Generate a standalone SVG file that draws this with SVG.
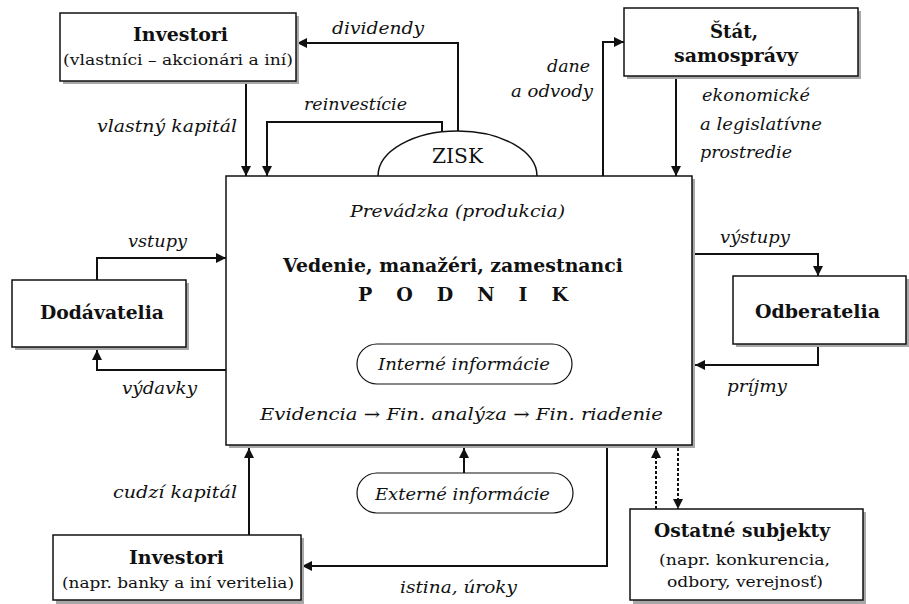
<svg xmlns="http://www.w3.org/2000/svg" width="909" height="604" viewBox="0 0 909 604">
<style>
text{font-family:"DejaVu Serif","Liberation Serif",serif;fill:#111}
.b{font-weight:bold;font-size:19px}
.r{font-size:15px}
.i{font-style:italic;font-size:17px}
.box{fill:#fff;stroke:#111;stroke-width:1.5}
.sh{fill:#a8a8a8}
.ln{fill:none;stroke:#111;stroke-width:2}
.ds{fill:none;stroke:#111;stroke-width:2;stroke-dasharray:3 2}
.pill{fill:#fff;stroke:#111;stroke-width:1.2}
</style>
<defs>
<marker id="ah" viewBox="0 0 10 10" refX="10" refY="5" markerWidth="10" markerHeight="10" markerUnits="userSpaceOnUse" orient="auto">
<path d="M0,0 L10,5 L0,10 z" fill="#111"/>
</marker>
</defs>
<rect width="909" height="604" fill="#fff"/>

<g id="connectors">
<path class="ln" d="M458,131 V43 H297" marker-end="url(#ah)"/>
<path class="ln" d="M442,131 V122 H267 V176" marker-end="url(#ah)"/>
<path class="ln" d="M246,82 V176" marker-end="url(#ah)"/>
<path class="ln" d="M603,176 V42 H624" marker-end="url(#ah)"/>
<path class="ln" d="M676,79 V176" marker-end="url(#ah)"/>
<path class="ln" d="M97,280 V258 H226" marker-end="url(#ah)"/>
<path class="ln" d="M226,370 H97 V350" marker-end="url(#ah)"/>
<path class="ln" d="M695,254 H818 V276" marker-end="url(#ah)"/>
<path class="ln" d="M818,347 V365 H695" marker-end="url(#ah)"/>
<path class="ln" d="M249,535 V448" marker-end="url(#ah)"/>
<path class="ln" d="M464,473 V448" marker-end="url(#ah)"/>
<path class="ln" d="M607,448 V566 H302" marker-end="url(#ah)"/>
<path class="ds" d="M656,509 V448" marker-end="url(#ah)"/>
<path class="ds" d="M678,448 V509" marker-end="url(#ah)"/>
</g>

<g id="zisk">
<path d="M378,176 A79.5,45 0 0 1 537,176" fill="#fff" stroke="#111" stroke-width="1.5"/>
<text x="457.5" y="163" font-size="21" text-anchor="middle" textLength="51" lengthAdjust="spacingAndGlyphs">ZISK</text>
</g>

<g id="podnik">
<rect class="sh" x="229" y="179" width="466" height="269"/>
<rect class="box" x="226" y="176" width="466" height="269"/>
<text class="i" x="457.5" y="217" text-anchor="middle" textLength="215" lengthAdjust="spacingAndGlyphs">Prevádzka (produkcia)</text>
<text class="b" x="453" y="272" text-anchor="middle" textLength="340" lengthAdjust="spacingAndGlyphs">Vedenie, manažéri, zamestnanci</text>
<text class="b" x="463" y="301" font-size="21" text-anchor="middle" textLength="210" lengthAdjust="spacing">P O D N I K</text>
<rect class="pill" x="357" y="344" width="215" height="40" rx="20"/>
<text class="i" x="464" y="370" text-anchor="middle" textLength="172" lengthAdjust="spacingAndGlyphs">Interné informácie</text>
<text class="i" x="461.5" y="420" text-anchor="middle" textLength="403" lengthAdjust="spacingAndGlyphs">Evidencia → Fin. analýza → Fin. riadenie</text>
</g>

<g id="externe">
<rect class="pill" x="357" y="473" width="216" height="40" rx="20"/>
<text class="i" x="462.5" y="500" text-anchor="middle" textLength="175" lengthAdjust="spacingAndGlyphs">Externé informácie</text>
</g>

<g id="investori-vlastnici">
<rect class="sh" x="63" y="16" width="236" height="68"/>
<rect class="box" x="60" y="13" width="236" height="68"/>
<text class="b" x="180.5" y="41" text-anchor="middle" textLength="95" lengthAdjust="spacingAndGlyphs">Investori</text>
<text class="r" x="178" y="65" text-anchor="middle" textLength="230" lengthAdjust="spacingAndGlyphs">(vlastníci – akcionári a iní)</text>
</g>

<g id="stat">
<rect class="sh" x="627" y="11" width="234" height="68"/>
<rect class="box" x="624" y="8" width="234" height="68"/>
<text class="b" x="734" y="38" text-anchor="middle" textLength="48" lengthAdjust="spacingAndGlyphs">Štát,</text>
<text class="b" x="736" y="62" text-anchor="middle" textLength="124" lengthAdjust="spacingAndGlyphs">samosprávy</text>
</g>

<g id="dodavatelia">
<rect class="sh" x="15" y="283" width="174" height="67"/>
<rect class="box" x="12" y="280" width="174" height="67"/>
<text class="b" x="102" y="319" text-anchor="middle" textLength="124" lengthAdjust="spacingAndGlyphs">Dodávatelia</text>
</g>

<g id="odberatelia">
<rect class="sh" x="736" y="279" width="173" height="68"/>
<rect class="box" x="733" y="276" width="173" height="68"/>
<text class="b" x="817.5" y="318" text-anchor="middle" textLength="125" lengthAdjust="spacingAndGlyphs">Odberatelia</text>
</g>

<g id="investori-veritelia">
<rect class="sh" x="56" y="538" width="248" height="66"/>
<rect class="box" x="53" y="535" width="248" height="65"/>
<text class="b" x="176.5" y="564" text-anchor="middle" textLength="95" lengthAdjust="spacingAndGlyphs">Investori</text>
<text class="r" x="178" y="588" text-anchor="middle" textLength="232" lengthAdjust="spacingAndGlyphs">(napr. banky a iní veritelia)</text>
</g>

<g id="ostatne">
<rect class="sh" x="633" y="512" width="233" height="92"/>
<rect class="box" x="630" y="509" width="233" height="91"/>
<text class="b" x="742" y="537" text-anchor="middle" textLength="176" lengthAdjust="spacingAndGlyphs">Ostatné subjekty</text>
<text class="r" x="744.5" y="565" text-anchor="middle" textLength="171" lengthAdjust="spacingAndGlyphs">(napr. konkurencia,</text>
<text class="r" x="745" y="587" text-anchor="middle" textLength="156" lengthAdjust="spacingAndGlyphs">odbory, verejnosť)</text>
</g>

<g id="labels">
<text class="i" x="332" y="34" textLength="92" lengthAdjust="spacingAndGlyphs">dividendy</text>
<text class="i" x="304" y="110" textLength="103" lengthAdjust="spacingAndGlyphs">reinvestície</text>
<text class="i" x="97" y="132" textLength="140" lengthAdjust="spacingAndGlyphs">vlastný kapitál</text>
<text class="i" x="590" y="72" text-anchor="end" textLength="43" lengthAdjust="spacingAndGlyphs">dane</text>
<text class="i" x="593" y="97" text-anchor="end" textLength="82" lengthAdjust="spacingAndGlyphs">a odvody</text>
<text class="i" x="702" y="101" textLength="108" lengthAdjust="spacingAndGlyphs">ekonomické</text>
<text class="i" x="700" y="130" textLength="122" lengthAdjust="spacingAndGlyphs">a legislatívne</text>
<text class="i" x="700" y="158" textLength="92" lengthAdjust="spacingAndGlyphs">prostredie</text>
<text class="i" x="128" y="247" textLength="59" lengthAdjust="spacingAndGlyphs">vstupy</text>
<text class="i" x="122" y="394" textLength="75" lengthAdjust="spacingAndGlyphs">výdavky</text>
<text class="i" x="720" y="243" textLength="70" lengthAdjust="spacingAndGlyphs">výstupy</text>
<text class="i" x="727" y="392" textLength="60" lengthAdjust="spacingAndGlyphs">príjmy</text>
<text class="i" x="113" y="498" textLength="124" lengthAdjust="spacingAndGlyphs">cudzí kapitál</text>
<text class="i" x="400" y="593" textLength="117" lengthAdjust="spacingAndGlyphs">istina, úroky</text>
</g>
</svg>
